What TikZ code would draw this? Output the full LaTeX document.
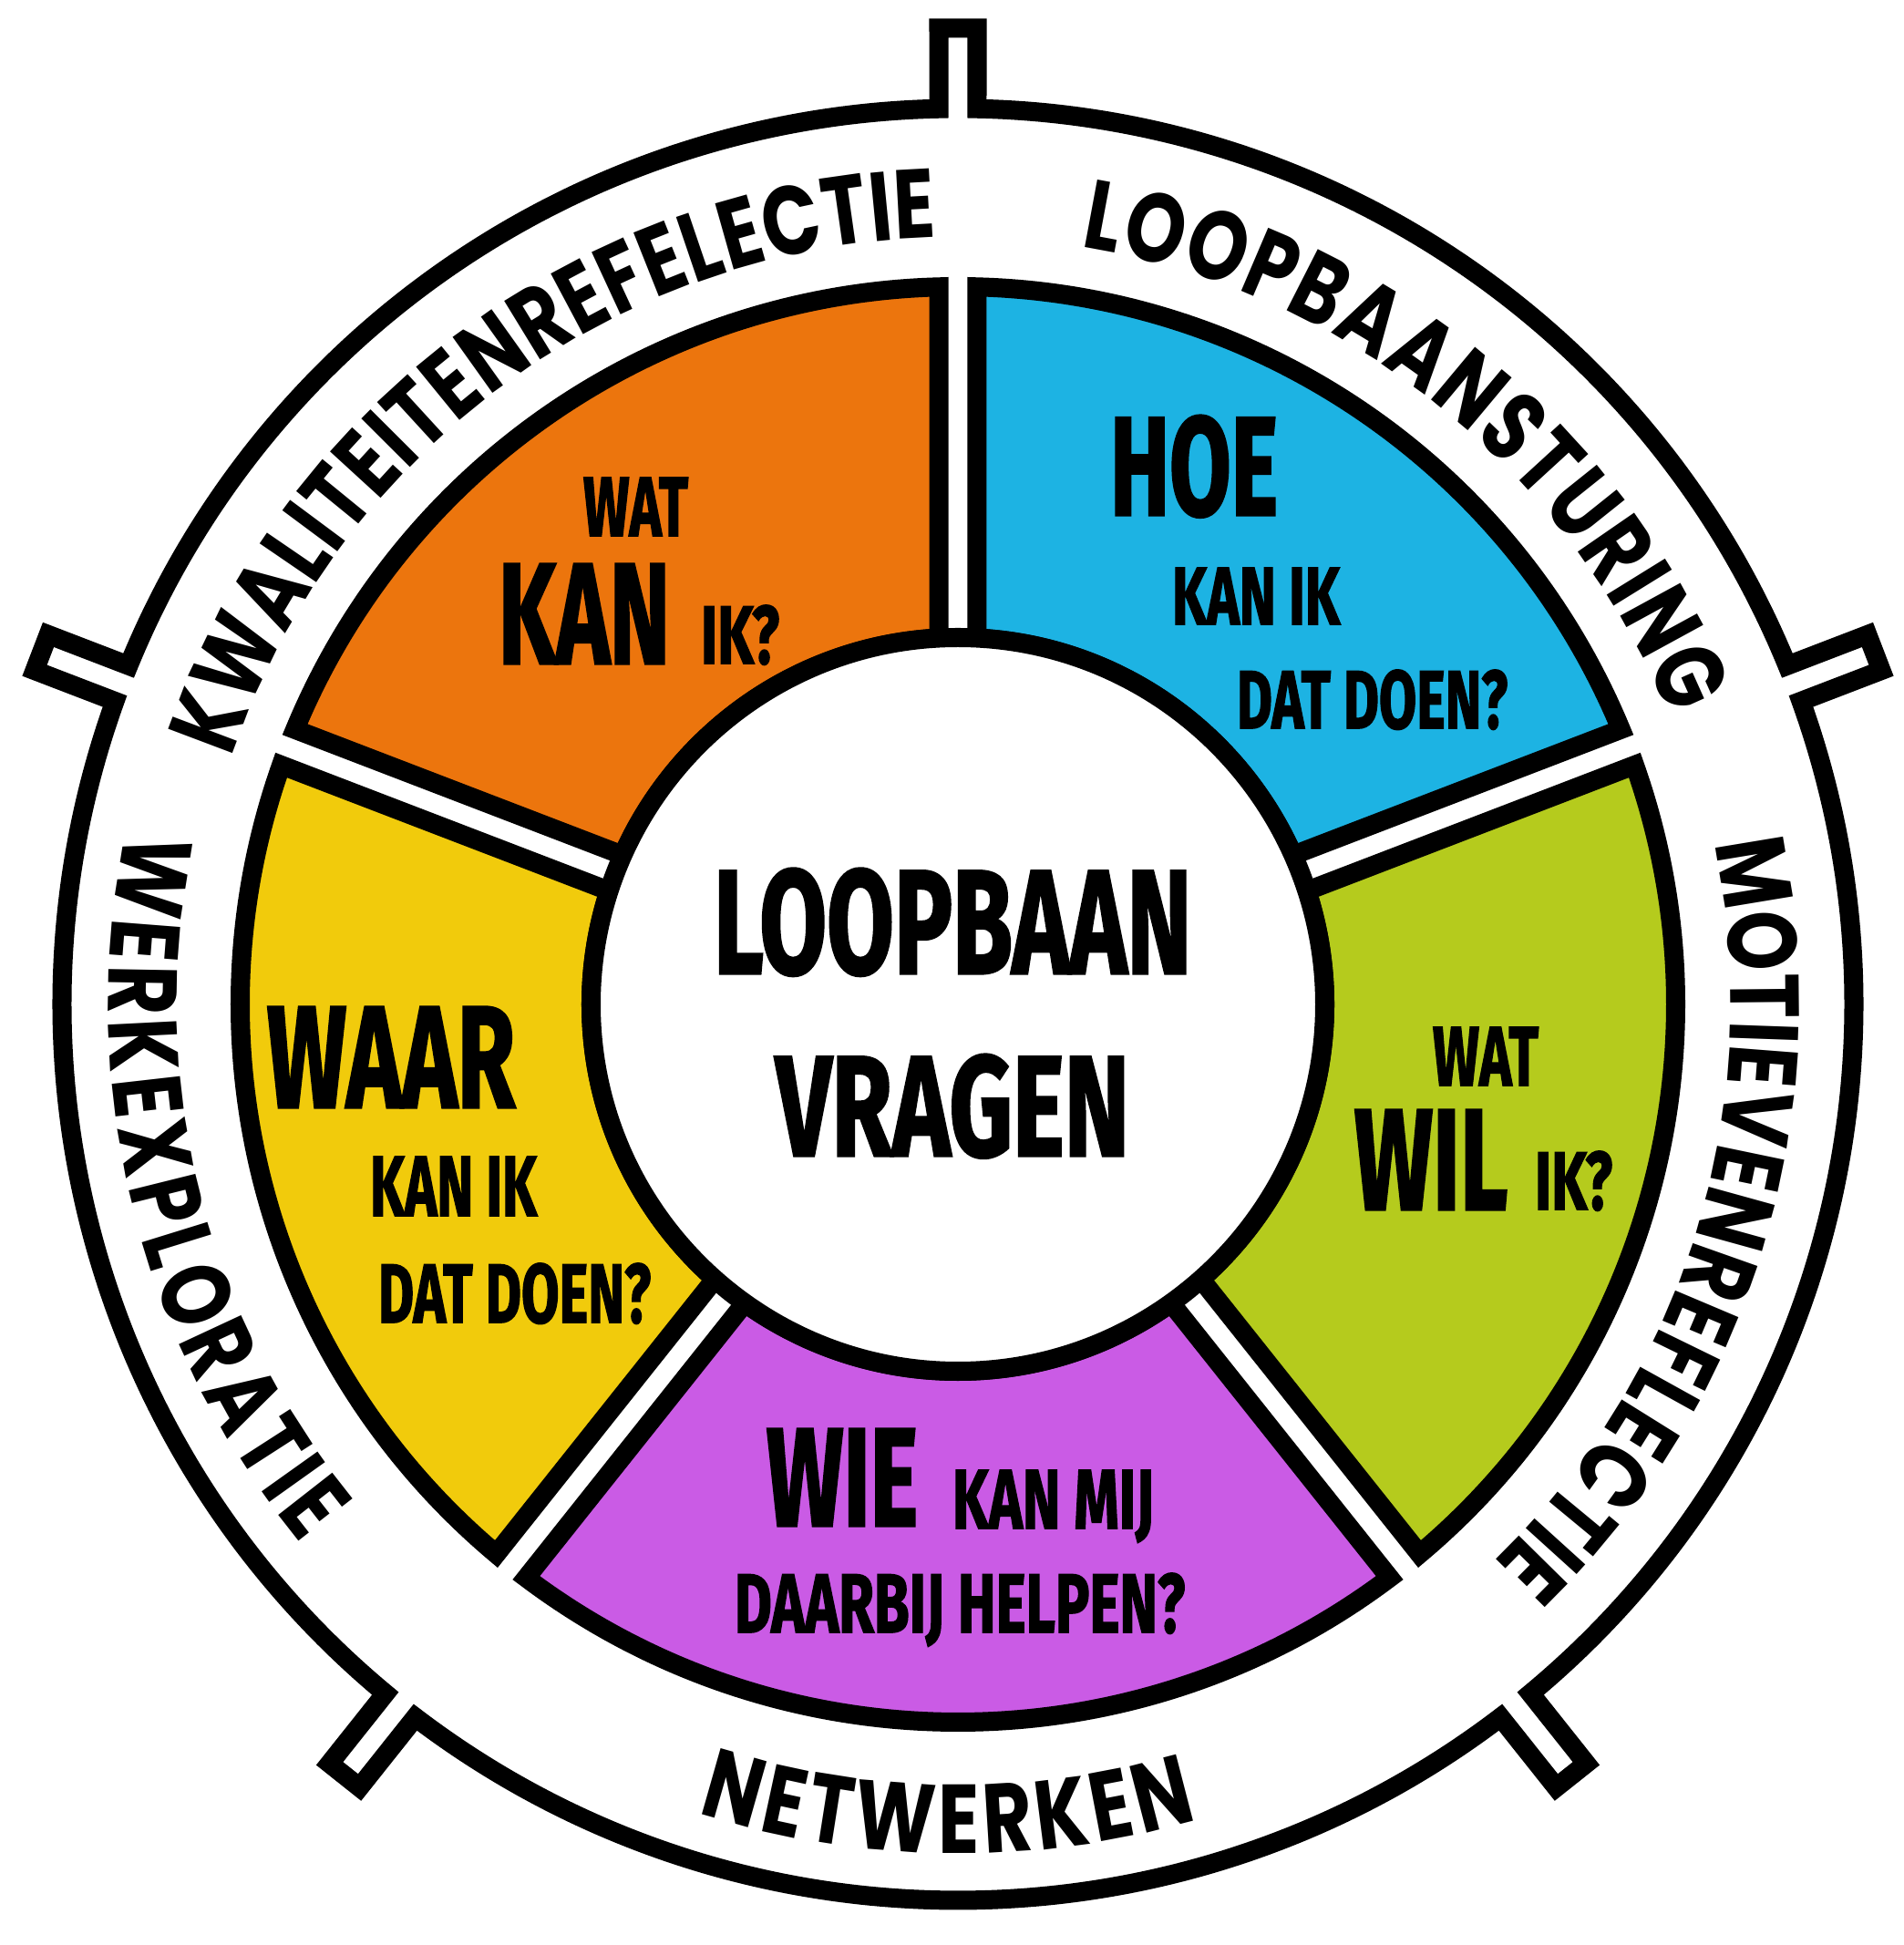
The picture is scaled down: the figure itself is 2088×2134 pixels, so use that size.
\documentclass[tikz,border=0pt]{standalone}
\usepackage{fontspec}
\usepackage{graphicx}
\usetikzlibrary{calc,decorations.text}
\newfontfamily\bebasfont{Fira Sans}[FakeBold=2]
\newfontfamily\ringfont{Poppins}[FakeStretch=0.78]
\newcommand{\ringstyle}{\ringfont\bfseries\fontsize{30.5pt}{30.5pt}\selectfont}
\newcommand{\fitbox}[3]{\resizebox{#1cm}{#2cm}{\bebasfont\bfseries #3}}
\definecolor{cOrange}{HTML}{EC750D}
\definecolor{cBlue}{HTML}{1DB3E3}
\definecolor{cYellow}{HTML}{F1CB0C}
\definecolor{cGreen}{HTML}{B5CB1D}
\definecolor{cPurple}{HTML}{CA5BE5}
\tikzset{
  ringline/.style={line width=0.21cm, line join=miter, draw=black},
  segline/.style={line width=0.21cm, line join=miter, draw=black},
  lbl/.style={anchor=base west, inner sep=0pt, outer sep=0pt}
}
\newcommand{\segpath}[3]{%
  \pgfmathsetmacro\segSa{#1+1.528}%
  \pgfmathsetmacro\segSb{#2-1.528}%
  \pgfmathsetmacro\segCa{#1+2.99}%
  \pgfmathsetmacro\segCb{#2-2.99}%
  \draw[segline, fill=#3] (\segSa:787.5) arc[start angle=\segSa, end angle=\segSb, radius=787.5]
    -- (\segCb:402.5) arc[start angle=\segCb, end angle=\segCa, radius=402.5] -- cycle;}
\begin{document}
\begin{tikzpicture}[x=0.01cm,y=0.01cm]
\useasboundingbox (-1051,-1032) rectangle (1037,1102);
% outer ring with notches
\draw[ringline] (22.224:983)
  arc[start angle=22.224, end angle=88.776, radius=983]
  -- ($(90:1071)+(0:21)$) -- ($(90:1071)+(180:21)$) -- (91.224:983)
  arc[start angle=91.224, end angle=157.776, radius=983]
  -- ($(159:1077)+(69:21)$) -- ($(159:1077)+(249:21)$) -- (160.224:983)
  arc[start angle=160.224, end angle=230.276, radius=983]
  -- ($(231.5:1081)+(141.5:21)$) -- ($(231.5:1081)+(321.5:21)$) -- (232.724:983)
  arc[start angle=232.724, end angle=307.276, radius=983]
  -- ($(308.5:1081)+(218.5:21)$) -- ($(308.5:1081)+(398.5:21)$) -- (309.724:983)
  arc[start angle=309.724, end angle=379.776, radius=983]
  -- ($(21:1077)+(-69:21)$) -- ($(21:1077)+(111:21)$) -- cycle;
% segments
\segpath{90}{159}{cOrange}
\segpath{159}{231.5}{cYellow}
\segpath{231.5}{308.5}{cPurple}
\segpath{308.5}{381}{cGreen}
\segpath{21}{90}{cBlue}
% centre circle
\draw[segline, fill=white] (0,0) circle[radius=402.5];
% ring texts
\path[decorate, decoration={text along path, text align={fit to path},
  text={|\ringstyle|KWALITEITENREFELECTIE}}]
  (161.3:842) arc[start angle=161.3, end angle=91.6, radius=842];
\path[decorate, decoration={text along path, text align={fit to path},
  text={|\ringstyle|LOOPBAANSTURING}}]
  (80.8:842) arc[start angle=80.8, end angle=22, radius=842];
\path[decorate, decoration={text along path, text align={fit to path},
  text={|\ringstyle|MOTIEVENREFLECTIE}}]
  (12:848) arc[start angle=12, end angle=-46.1, radius=848];
\path[decorate, decoration={text along path, text align={fit to path},
  text={|\ringstyle|WERKEXPLORATIE}}]
  (168.3:932) arc[start angle=168.3, end angle=219.4, radius=932];
\path[decorate, decoration={text along path, text align={fit to path},
  text={|\ringstyle|NETWERKEN}}]
  (252.2:932) arc[start angle=252.2, end angle=286.4, radius=932];
% orange
\node[lbl] (oWat) at (-411,514) {\fitbox{1.15}{0.64}{WAT}};
\node[lbl] (oKan) at (-504,374) {\fitbox{1.88}{1.09}{KAN}};
\node[lbl] (oIk) at (-282,374) {\fitbox{0.86}{0.64}{IK?}};
% blue
\node[lbl] (bHoe) at (167,537) {\fitbox{1.84}{1.09}{HOE}};
\node[lbl] (bKanIk) at (235,417) {\fitbox{1.84}{0.62}{KAN IK}};
\node[lbl] (bDat) at (306,303) {\fitbox{2.97}{0.64}{DAT DOEN?}};
% yellow
\node[lbl] (yWaar) at (-758,-113) {\fitbox{2.72}{1.10}{WAAR}};
\node[lbl] (yKanIk) at (-645,-232) {\fitbox{1.83}{0.65}{KAN IK}};
\node[lbl] (yDat) at (-636,-349) {\fitbox{2.99}{0.65}{DAT DOEN?}};
% green
\node[lbl] (gWat) at (521,-89) {\fitbox{1.16}{0.64}{WAT}};
\node[lbl] (gWil) at (435,-225) {\fitbox{1.68}{1.09}{WIL}};
\node[lbl] (gIk) at (633,-225) {\fitbox{0.85}{0.64}{IK?}};
% purple
\node[lbl] (pWie) at (-210,-572) {\fitbox{1.66}{1.06}{WIE}};
\node[lbl] (pKan) at (-6,-575) {\fitbox{2.21}{0.64}{KAN MIJ}};
\node[lbl] (pHelp) at (-245,-689) {\fitbox{4.94}{0.65}{DAARBIJ HELPEN?}};
% centre
\node[lbl] (cLoop) at (-268,34) {\fitbox{5.24}{1.15}{LOOPBAAN}};
\node[lbl] (cVrag) at (-200,-166) {\fitbox{3.88}{1.11}{VRAGEN}};
\end{tikzpicture}
\end{document}
